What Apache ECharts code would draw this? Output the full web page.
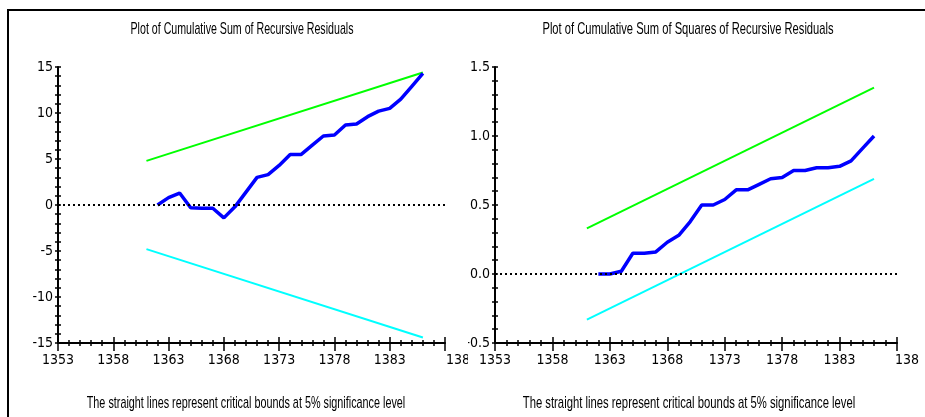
<!DOCTYPE html>
<html>
<head>
<meta charset="utf-8">
<script src="https://cdn.jsdelivr.net/npm/echarts@6/dist/echarts.min.js"></script>
<style>
  html, body { margin: 0; padding: 0; background: #fff; width: 925px; height: 417px; overflow: hidden; }
  #frame { position: absolute; left: 7px; top: 9px; width: 1000px; height: 1000px; border-top: 2px solid #000; border-left: 2px solid #000; }
  #left { position: absolute; left: 0; top: 0; width: 468px; height: 417px; }
  #right { position: absolute; left: 468px; top: 0; width: 451px; height: 417px; }
</style>
</head>
<body>
<div id="frame"></div>
<div id="left"></div>
<div id="right"></div>
<script>
// ---- data ----
const years = [1362, 1363, 1364, 1365, 1366, 1367, 1368, 1369, 1370, 1371, 1372, 1373, 1374,
               1375, 1376, 1377, 1378, 1379, 1380, 1381, 1382, 1383, 1384, 1385, 1386];
const cusum = [0, 0.8, 1.3, -0.3, -0.35, -0.35, -1.4, -0.2, 1.4, 3.0, 3.3, 4.3, 5.5,
               5.5, 6.5, 7.5, 7.6, 8.7, 8.8, 9.6, 10.2, 10.5, 11.5, 12.9, 14.3];
const cusumSq = [0, 0.0, 0.02, 0.15, 0.15, 0.16, 0.23, 0.28, 0.38, 0.50, 0.50, 0.54, 0.61,
                 0.61, 0.65, 0.69, 0.70, 0.75, 0.75, 0.77, 0.77, 0.78, 0.82, 0.91, 1.00];
const boundYears = [1361, 1386];
const cusumUpper = [4.8, 14.4];
const cusumLower = [-4.8, -14.4];
const sqUpper = [0.33, 1.35];
const sqLower = [-0.33, 0.69];
const xMin = 1353, xMax = 1388, xStep = 5;
const leftTitle = 'Plot of Cumulative Sum of Recursive Residuals';
const rightTitle = 'Plot of Cumulative Sum of Squares of Recursive Residuals';
const caption = 'The straight lines represent critical bounds at 5% significance level';

const labelFont = "'Liberation Sans Narrow', 'DejaVu Sans Condensed', sans-serif";

function pairs(xs, ys) { return xs.map((x, i) => [x, ys[i]]); }

function makeText(text, x, y, sx) {
  return {
    type: 'text', x: x, y: y, scaleX: sx, scaleY: 1, silent: true,
    style: { text: text, fill: '#000', font: '17px "Liberation Sans", Arial, sans-serif',
             align: 'center', verticalAlign: 'middle', textAlign: 'center', textVerticalAlign: 'middle' }
  };
}

function buildOption(cfg) {
  const xBase = {
    type: 'value', min: xMin, max: xMax, interval: xStep, position: 'bottom',
    splitLine: { show: false }
  };
  const yBase = {
    type: 'value', min: cfg.yMin, max: cfg.yMax, interval: cfg.yStep, position: 'left',
    splitLine: { show: false }
  };
  return {
    animation: false,
    backgroundColor: 'transparent',
    grid: { left: cfg.gridLeft, right: cfg.gridRight, top: 67, bottom: 74,
            containLabel: false, outerBoundsMode: 'none' },
    graphic: [
      makeText(cfg.title, cfg.titleX, 29, cfg.titleScale),
      makeText(caption, cfg.capX, 403, cfg.capScale)
    ],
    xAxis: [
      Object.assign({}, xBase, {
        axisLine: { show: true, onZero: false, lineStyle: { color: '#000', width: 2 } },
        axisTick: { show: true, inside: false, length: 8, lineStyle: { color: '#000', width: 1.5 } },
        minorTick: { show: true, splitNumber: 5, length: 3, lineStyle: { color: '#000', width: 1.5 } },
        axisLabel: {
          show: true, color: '#000', fontFamily: labelFont, fontSize: 14, margin: 10,
          formatter: v => (v === xMax ? '{last|' + v + '}' : String(v)),
          rich: { last: { color: '#000', fontFamily: labelFont, fontSize: 14, padding: [0, 0, 0, cfg.lastPad] } }
        }
      }),
      Object.assign({}, xBase, {
        axisLine: { show: false, onZero: false },
        axisTick: { show: true, inside: true, length: 6, lineStyle: { color: '#000', width: 1.5 } },
        minorTick: { show: true, splitNumber: 5, length: 3, lineStyle: { color: '#000', width: 1.5 } },
        axisLabel: { show: false }
      })
    ],
    yAxis: [
      Object.assign({}, yBase, {
        axisLine: { show: true, onZero: false, lineStyle: { color: '#000', width: 2 } },
        axisTick: { show: true, inside: false, length: 3, lineStyle: { color: '#000', width: 1.5 } },
        minorTick: { show: true, splitNumber: 5, length: 3, lineStyle: { color: '#000', width: 1.5 } },
        axisLabel: { show: true, color: '#000', fontFamily: labelFont, fontSize: 14, margin: 5,
                     formatter: cfg.yFmt }
      }),
      Object.assign({}, yBase, {
        axisLine: { show: false, onZero: false },
        axisTick: { show: true, inside: true, length: 3, lineStyle: { color: '#000', width: 1.5 } },
        minorTick: { show: true, splitNumber: 5, length: 3, lineStyle: { color: '#000', width: 1.5 } },
        axisLabel: { show: false }
      })
    ],
    series: [
      {
        type: 'line', data: pairs(boundYears, cfg.upper), symbol: 'none', silent: true,
        lineStyle: { color: '#00ff00', width: 2 }, z: 2
      },
      {
        type: 'line', data: pairs(boundYears, cfg.lower), symbol: 'none', silent: true,
        lineStyle: { color: '#00ffff', width: 2 }, z: 2
      },
      {
        type: 'line', data: pairs(years, cfg.values), symbol: 'none', silent: true,
        lineStyle: { color: '#0000ff', width: 3.5 }, z: 3,
        markLine: {
          silent: true, symbol: 'none', label: { show: false },
          lineStyle: { color: '#000', type: [2, 3], width: 2 },
          data: [{ yAxis: 0 }]
        }
      }
    ]
  };
}

const leftChart = echarts.init(document.getElementById('left'), null, { renderer: 'canvas' });
leftChart.setOption(buildOption({
  gridLeft: 58, gridRight: 23, yMin: -15, yMax: 15, yStep: 5,
  yFmt: v => String(v),
  title: leftTitle, titleX: 242, titleScale: 0.626,
  capX: 246, capScale: 0.636, lastPad: 34,
  upper: cusumUpper, lower: cusumLower, values: cusum
}));

const rightChart = echarts.init(document.getElementById('right'), null, { renderer: 'canvas' });
rightChart.setOption(buildOption({
  gridLeft: 27, gridRight: 22, yMin: -0.5, yMax: 1.5, yStep: 0.5,
  yFmt: v => v.toFixed(1),
  title: rightTitle, titleX: 220, titleScale: 0.657,
  capX: 221, capScale: 0.664, lastPad: 28,
  upper: sqUpper, lower: sqLower, values: cusumSq
}));
</script>
</body>
</html>
